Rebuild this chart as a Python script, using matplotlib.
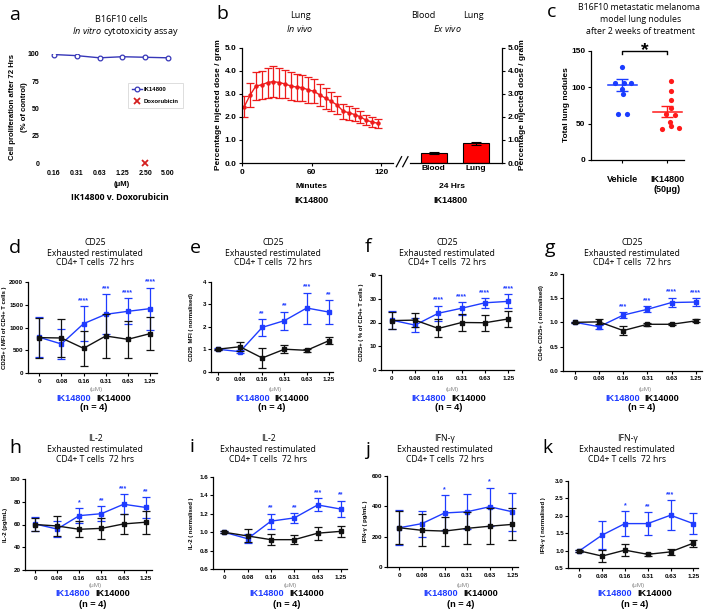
import matplotlib
matplotlib.use('Agg')
import matplotlib.pyplot as plt
from matplotlib.lines import Line2D

plt.rcParams['font.family'] = ['Liberation Sans', 'DejaVu Sans']
plt.rcParams['mathtext.fontset'] = 'custom'
plt.rcParams['mathtext.rm'] = 'Open Sans'
plt.rcParams['mathtext.it'] = 'Open Sans:italic'

# ---------------- data ----------------
# panel a
a_conc = ['0.16', '0.31', '0.63', '1.25', '2.50', '5.00']
a_ik14800 = [99.5, 98.5, 96.5, 97.5, 97.0, 96.5]
a_dox_conc = ['2.50']
a_dox = [0]

# panel b (in vivo time course, lung)
b_minutes = [2, 7, 12, 17, 22, 27, 32, 37, 42, 47, 52, 57, 62, 67, 72, 77, 82, 87, 92, 97, 102, 107, 112, 117]
b_mean = [2.45, 2.95, 3.34, 3.39, 3.49, 3.53, 3.49, 3.43, 3.34, 3.29, 3.27, 3.17, 3.11, 2.95, 2.81, 2.67,
          2.51, 2.25, 2.18, 2.10, 2.00, 1.85, 1.78, 1.72]
b_err = [0.45, 0.50, 0.60, 0.60, 0.65, 0.67, 0.65, 0.62, 0.60, 0.58, 0.56, 0.55, 0.52, 0.48, 0.45, 0.42,
         0.40, 0.33, 0.30, 0.28, 0.25, 0.22, 0.20, 0.20]
b_tissue = ['Blood', 'Lung']
b_exvivo = [0.42, 0.85]
b_exvivo_err = [0.04, 0.08]

# panel c
c_groups = ['Vehicle', 'IK14800\n(50μg)']
c_vehicle = [128, 105, 106, 106, 98, 90, 63, 63]
c_ik14800 = [108, 95, 83, 72, 63, 62, 52, 47, 44, 42]
c_mean = [103, 66]
c_sem = [8, 7.5]
c_vehicle_jitter = [0.0, -0.17, 0.04, 0.2, 0.0, 0.01, -0.1, 0.1]
c_ik_jitter = [0.07, 0.07, 0.07, 0.09, -0.04, 0.18, 0.05, 0.07, 0.25, -0.12]

# panels d-k
conc = ['0', '0.08', '0.16', '0.31', '0.63', '1.25']

d_blue = [787, 640, 1088, 1294, 1360, 1419]
d_blue_err = [440, 340, 390, 440, 290, 460]
d_black = [780, 772, 544, 816, 743, 868]
d_black_err = [440, 410, 390, 480, 410, 370]
d_stars = ['', '', '****', '***', '****', '****']

e_blue = [1.0, 0.89, 1.97, 2.27, 2.83, 2.65]
e_blue_err = [0.04, 0.08, 0.38, 0.40, 0.69, 0.53]
e_black = [1.0, 1.11, 0.61, 1.0, 0.95, 1.38]
e_black_err = [0.03, 0.20, 0.44, 0.17, 0.08, 0.15]
e_stars = ['', '', '**', '**', '***', '**']

f_blue = [21.0, 18.9, 23.9, 26.0, 28.3, 28.9]
f_blue_err = [3.7, 3.0, 3.2, 2.7, 2.1, 2.9]
f_black = [20.8, 21.0, 17.5, 20.0, 19.9, 21.5]
f_black_err = [3.7, 3.0, 3.8, 3.5, 3.3, 3.3]
f_stars = ['', '', '****', '****', '****', '****']

g_blue = [1.0, 0.91, 1.15, 1.27, 1.41, 1.42]
g_blue_err = [0.01, 0.04, 0.06, 0.06, 0.10, 0.08]
g_black = [1.0, 1.01, 0.83, 0.96, 0.96, 1.03]
g_black_err = [0.01, 0.05, 0.10, 0.03, 0.02, 0.03]
g_stars = ['', '', '***', '***', '****', '****']

h_blue = [60.5, 56.0, 67.8, 69.5, 77.8, 75.0]
h_blue_err = [6.5, 7.0, 6.5, 6.5, 9.0, 9.0]
h_black = [60.0, 58.7, 55.8, 56.6, 60.5, 62.0]
h_black_err = [6.0, 8.5, 7.0, 9.0, 9.0, 10.0]
h_stars = ['', '', '*', '**', '***', '**']

i_blue = [1.0, 0.93, 1.12, 1.155, 1.295, 1.25]
i_blue_err = [0.01, 0.05, 0.08, 0.05, 0.07, 0.09]
i_black = [1.0, 0.96, 0.92, 0.92, 0.99, 1.01]
i_black_err = [0.01, 0.07, 0.06, 0.05, 0.07, 0.06]
i_stars = ['', '', '**', '**', '***', '**']

j_blue = [260, 287, 357, 365, 398, 365]
j_blue_err = [115, 85, 115, 115, 125, 125]
j_black = [260, 243, 238, 256, 270, 282]
j_black_err = [110, 105, 95, 105, 120, 105]
j_stars = ['', '', '*', '', '*', '']

k_blue = [1.0, 1.45, 1.78, 1.78, 2.02, 1.78]
k_blue_err = [0.02, 0.40, 0.35, 0.33, 0.43, 0.30]
k_black = [1.0, 0.85, 1.02, 0.90, 0.97, 1.22]
k_black_err = [0.02, 0.18, 0.17, 0.05, 0.08, 0.10]
k_stars = ['', '', '*', '**', '***', '']

# ---------------- layout helpers ----------------
W, H = 708, 611
fig = plt.figure(figsize=(W / 100, H / 100), dpi=100)

BLUE = '#1f3cff'
BLACK = '#111111'
RED = '#ee1c1c'
TF = 'Open Sans'


def R(x0, y0, x1, y1):
    return [x0 / W, 1 - y1 / H, (x1 - x0) / W, (y1 - y0) / H]


def ftext(x, y, s, **kw):
    kw.setdefault('ha', 'center')
    kw.setdefault('va', 'center')
    return fig.text(x / W, 1 - y / H, s, **kw)


def bold_ticks(ax):
    for t in ax.get_xticklabels() + ax.get_yticklabels():
        t.set_fontweight('bold')


# ---------------- panel a ----------------
axa = fig.add_axes(R(42.6, 54, 179.4, 163))
xa = list(range(len(a_conc)))
axa.plot(xa, a_ik14800, color='#3636b8', lw=1, marker='o', ms=3.4, mfc='white',
         mec='#3636b8', mew=0.9, label='IK14800')
axa.plot([a_conc.index(c) for c in a_dox_conc], a_dox, ls='none', marker='x', color='#d42020',
         ms=5, mew=1.3, label='Doxorubicin', clip_on=False)
axa.set_xlim(-0.5, 5.5)
axa.set_ylim(0, 100)
axa.set_yticks([0, 25, 50, 75, 100])
axa.set_xticks(xa, a_conc)
for s in axa.spines.values():
    s.set_visible(False)
axa.tick_params(length=0, labelsize=5, pad=2.5)
axa.tick_params(axis='x', pad=5)
bold_ticks(axa)
leg = axa.legend(loc='upper left', bbox_to_anchor=(128 / W, 1 - 83 / H), bbox_transform=fig.transFigure,
                 prop=dict(family='Liberation Sans', weight='bold', size=4.3), frameon=True, fancybox=False,
                 handlelength=1.6, borderpad=0.7, labelspacing=1.1, handletextpad=0.3, borderaxespad=0)
leg.get_frame().set_edgecolor('#cfcfcf')
leg.get_frame().set_linewidth(0.6)
ftext(15, 15, 'a', family=TF, fontsize=14)
ftext(121, 19, 'B16F10 cells', family=TF, fontsize=6.6)
ftext(125, 32, r'$\it{In\ vitro}$ cytotoxicity assay', family=TF, fontsize=6.6)
ftext(13, 107, 'Cell proliferation after 72 Hrs', rotation=90, fontsize=5.6, weight='bold')
ftext(25, 107, '(% of control)', rotation=90, fontsize=5.6, weight='bold')
ftext(122, 185, '(μM)', fontsize=5.6, weight='bold')
ftext(120, 198, 'IK14800 v. Doxorubicin', fontsize=6.3, weight='bold', family=TF)

# ---------------- panel b ----------------
axb = fig.add_axes(R(242, 47.7, 393, 163))
axb.errorbar(b_minutes, b_mean, yerr=b_err, color=RED, lw=1, marker='o', ms=2.2, capsize=3,
             elinewidth=0.9, capthick=0.9)
axb.set_xlim(0, 130)
axb.set_ylim(0, 5)
axb.set_yticks([0, 1, 2, 3, 4, 5], ['0.0', '1.0', '2.0', '3.0', '4.0', '5.0'])
axb.set_xticks([0, 60, 120])
axb.spines['top'].set_visible(False)
axb.spines['right'].set_visible(False)
for s in ('left', 'bottom'):
    axb.spines[s].set_linewidth(0.9)
axb.tick_params(direction='out', length=2.5, width=0.8, labelsize=6, pad=1.5)
bold_ticks(axb)

axb2 = fig.add_axes(R(410, 47.7, 502, 163))
xb = list(range(len(b_tissue)))
axb2.bar(xb, b_exvivo, yerr=b_exvivo_err, width=0.61, color='#ff0000', edgecolor='black', lw=0.8,
         capsize=3.5, error_kw=dict(elinewidth=0.8, capthick=0.8, ecolor='black'))
axb2.set_xlim(-0.56, 1.61)
axb2.set_ylim(0, 5)
axb2.set_xticks(xb, b_tissue)
axb2.set_yticks([0, 1, 2, 3, 4, 5], ['0.0', '1.0', '2.0', '3.0', '4.0', '5.0'])
axb2.spines['top'].set_visible(False)
axb2.spines['left'].set_visible(False)
for s in ('right', 'bottom'):
    axb2.spines[s].set_linewidth(0.9)
axb2.yaxis.tick_right()
axb2.tick_params(direction='out', length=2.5, width=0.8, labelsize=6, pad=1.5)
axb2.tick_params(axis='x', length=0)
bold_ticks(axb2)
for xx in (396.3, 402.7):
    fig.add_artist(Line2D([xx / W, (xx + 5.3) / W], [1 - 166.7 / H, 1 - 156.7 / H], color='black', lw=0.9))

ftext(222, 14, 'b', family=TF, fontsize=14)
ftext(300, 15, 'Lung', family=TF, fontsize=6.5)
ftext(300, 29, r'$\it{In\ vivo}$', family=TF, fontsize=6.5)
ftext(423, 15, 'Blood', family=TF, fontsize=6.5)
ftext(473, 15, 'Lung', family=TF, fontsize=6.5)
ftext(447, 29, r'$\it{Ex\ vivo}$', family=TF, fontsize=6.5)
ftext(218, 105, 'Percentage injected dose / gram', rotation=90, fontsize=6, weight='bold')
ftext(523, 105, 'Percentage injected dose / gram', rotation=90, fontsize=6, weight='bold')
ftext(312, 186, 'Minutes', fontsize=6, weight='bold')
ftext(311, 200, 'IK14800', fontsize=6.5, weight='bold')
ftext(452, 186, '24 Hrs', fontsize=6, weight='bold')
ftext(450, 200, 'IK14800', fontsize=6.5, weight='bold')

# ---------------- panel c ----------------
axc = fig.add_axes(R(591, 50.7, 684, 160))
axc.scatter([0 + j for j in c_vehicle_jitter], c_vehicle, s=14, color='#1a3cff', zorder=3, lw=0)
axc.scatter([1 + j for j in c_ik_jitter], c_ik14800, s=14, color='#ff1a1a', zorder=3, lw=0)
for gx, m, e, col in zip([0, 1], c_mean, c_sem, ['#1a3cff', '#ff1a1a']):
    axc.plot([gx - 0.33, gx + 0.33], [m, m], color=col, lw=1.1, zorder=4)
    axc.errorbar([gx], [m], yerr=[e], color=col, capsize=4, elinewidth=1, capthick=1, zorder=4, fmt='none')
axc.plot([0, 0, 1, 1], [145, 150, 150, 145], color='black', lw=1, clip_on=False)
axc.annotate('*', xy=(0.5, 150), xytext=(0, -3.5), textcoords='offset points', ha='center', va='baseline',
             fontsize=14, weight='bold', annotation_clip=False)
axc.set_xlim(-0.7, 1.37)
axc.set_ylim(0, 150)
axc.set_yticks([0, 50, 100, 150])
axc.set_xticks([0, 1], c_groups)
axc.spines['top'].set_visible(False)
axc.spines['right'].set_visible(False)
for s in ('left', 'bottom'):
    axc.spines[s].set_linewidth(0.9)
axc.tick_params(direction='out', length=2.5, width=0.8, labelsize=6, pad=1.5)
axc.tick_params(axis='x', labelsize=6.5, pad=8)
bold_ticks(axc)
ftext(552, 12, 'c', family=TF, fontsize=14)
ftext(639, 7, 'B16F10 metastatic melanoma', family=TF, fontsize=6.3)
ftext(641, 19, 'model lung nodules', family=TF, fontsize=6.3)
ftext(641, 31, 'after 2 weeks of treatment', family=TF, fontsize=6.3)
ftext(567, 105, 'Total lung nodules', rotation=90, fontsize=6, weight='bold')


# ---------------- panels d-k ----------------
def line_panel(letter, letter_xy, title, title_x, title_y, axx, right, p0, p5, top, bot,
               ylim, yticks, yfmt, blue, blue_e, black, black_e, stars, ylabel, ylabel_x, lab_x, lab_y):
    sp = (p5 - p0) / 5.0
    ax = fig.add_axes(R(axx, top, right, bot))
    xs = list(range(len(conc)))
    ax.errorbar(xs, blue, yerr=blue_e, color=BLUE, lw=1, marker='s', ms=2.6, capsize=3,
                elinewidth=0.9, capthick=0.9, clip_on=False, zorder=3)
    ax.errorbar(xs, black, yerr=black_e, color=BLACK, lw=1, marker='s', ms=2.6, capsize=3,
                elinewidth=0.9, capthick=0.9, clip_on=False, zorder=4)
    for xi, st in enumerate(stars):
        if st:
            ax.annotate(st, xy=(xi, blue[xi] + blue_e[xi]), xytext=(0, 4), textcoords='offset points',
                        ha='center', va='center', fontsize=5, color=BLUE, weight='bold',
                        annotation_clip=False)
    ax.set_xlim((axx - p0) / sp, (right - p0) / sp)
    ax.set_ylim(*ylim)
    ax.set_yticks(yticks, [yfmt.format(v) for v in yticks])
    ax.set_xticks(xs, conc)
    ax.spines['top'].set_visible(False)
    ax.spines['right'].set_visible(False)
    for s in ('left', 'bottom'):
        ax.spines[s].set_linewidth(0.9)
    ax.tick_params(direction='out', length=2, width=0.8, labelsize=4.5, pad=1.2)
    ax.tick_params(axis='x', pad=2)
    bold_ticks(ax)
    ftext(letter_xy[0], letter_xy[1], letter, family=TF, fontsize=14)
    for k, line in enumerate(title):
        ftext(title_x, title_y[k], line, family=TF, fontsize=6.2)
    ftext(ylabel_x, (top + bot) / 2, ylabel, rotation=90, fontsize=4.3, weight='bold')
    ftext(lab_x + 3, lab_y[0], '(μM)', fontsize=4.6, color='#8a8a8a')
    ftext(lab_x - 2.5, lab_y[1], 'IK14800', fontsize=6.6, weight='bold', color=BLUE, ha='right')
    ftext(lab_x + 2.5, lab_y[1], 'IK14000', fontsize=6.6, weight='bold', color='black', ha='left')
    ftext(lab_x, lab_y[2], '(n = 4)', fontsize=6.6, weight='bold')


T_CD25 = ['CD25', 'Exhausted restimulated', 'CD4+ T cells  72 hrs']
T_IL2 = ['IL-2', 'Exhausted restimulated', 'CD4+ T cells  72 hrs']
T_IFN = ['IFN-γ', 'Exhausted restimulated', 'CD4+ T cells  72 hrs']
ROW2_T = [243, 253, 262.5]
ROW3_T = [438.5, 449, 459.5]
ROW2_L = [390, 398.5, 407]
ROW3_L = [586, 593.5, 604.5]

line_panel('d', (15, 248), T_CD25, 95, ROW2_T, 27.7, 156.7, 39.3, 150, 282.3, 373,
           (0, 2000), [0, 500, 1000, 1500, 2000], '{:.0f}', d_blue, d_blue_err, d_black, d_black_err, d_stars,
           'CD25+ ( MFI of CD4+ T cells )', 5, 93.5, ROW2_L)
line_panel('e', (195, 248), T_CD25, 273, ROW2_T, 211, 333, 217.7, 329, 281.7, 371.7,
           (0, 4), [0, 1, 2, 3, 4], '{:.0f}', e_blue, e_blue_err, e_black, e_black_err, e_stars,
           'CD25  MFI ( normalised)', 192, 272, ROW2_L)
line_panel('f', (368, 247), T_CD25, 447, ROW2_T, 381, 514, 391.7, 508.3, 275, 370,
           (0, 40), [0, 10, 20, 30, 40], '{:.0f}', f_blue, f_blue_err, f_black, f_black_err, f_stars,
           'CD25+ ( % of CD4+ T cells )', 362, 449, ROW2_L)
line_panel('g', (550, 248), T_CD25, 632, ROW2_T, 563, 701.7, 575, 695.7, 274, 370.7,
           (0, 2.0), [0, 0.5, 1.0, 1.5, 2.0], '{:.1f}', g_blue, g_blue_err, g_black, g_black_err, g_stars,
           'CD4+ CD25+ ( normalised)', 542, 642, ROW2_L)
line_panel('h', (15, 448), T_IL2, 95, ROW3_T, 25, 151.7, 35, 145.7, 479, 570,
           (20, 100), [20, 40, 60, 80, 100], '{:.0f}', h_blue, h_blue_err, h_black, h_black_err, h_stars,
           'IL-2 (pg/mL)', 6, 92.5, ROW3_L)
line_panel('i', (192, 447), T_IL2, 268, ROW3_T, 213, 346.7, 224.3, 341, 476.7, 569.3,
           (0.6, 1.6), [0.6, 0.8, 1.0, 1.2, 1.4, 1.6], '{:.1f}', i_blue, i_blue_err, i_black, i_black_err,
           i_stars, 'IL-2 ( normalised )', 192, 287, ROW3_L)
line_panel('j', (368, 450), T_IFN, 445, ROW3_T, 386.7, 518, 399.3, 512.3, 476, 567.3,
           (0, 600), [0, 200, 400, 600], '{:.0f}', j_blue, j_blue_err, j_black, j_black_err, j_stars,
           'IFN-γ ( pg/mL )', 366, 460.5, ROW3_L)
line_panel('k', (547, 448), T_IFN, 627, ROW3_T, 568.3, 698, 579.3, 693.3, 481, 568.3,
           (0.5, 3.0), [0.5, 1.0, 1.5, 2.0, 2.5, 3.0], '{:.1f}', k_blue, k_blue_err, k_black, k_black_err,
           k_stars, 'IFN-γ ( normalised )', 544, 635, ROW3_L)

fig.savefig('out.png', dpi=100)
